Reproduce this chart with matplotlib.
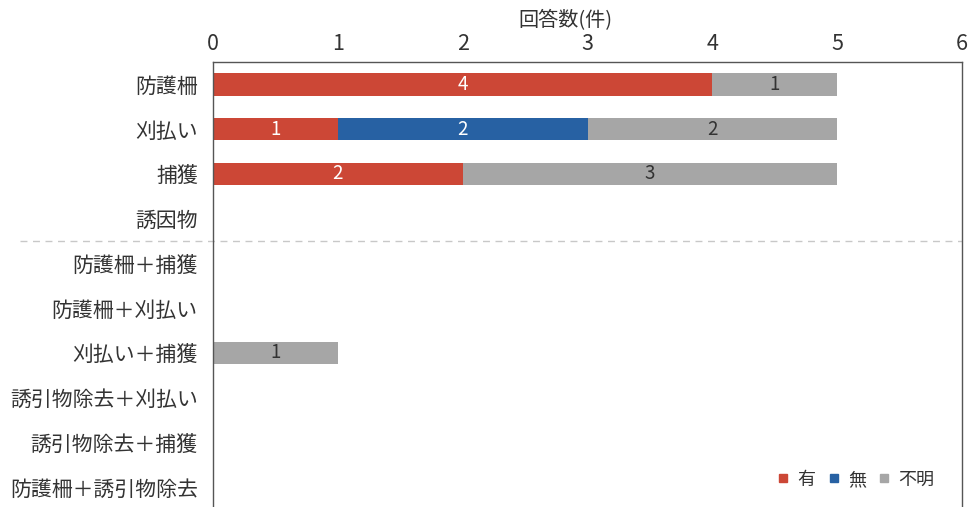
import matplotlib
matplotlib.use("Agg")
import matplotlib.pyplot as plt
from matplotlib.lines import Line2D
import numpy as np

plt.rcParams['font.family'] = ['Noto Sans CJK JP', 'DejaVu Sans']

categories = ["防護柵", "刈払い", "捕獲", "誘因物", "防護柵＋捕獲", "防護柵＋刈払い",
              "刈払い＋捕獲", "誘引物除去＋刈払い", "誘引物除去＋捕獲", "防護柵＋誘引物除去"]
series_names = ["有", "無", "不明"]
yes_vals = [4, 1, 2, 0, 0, 0, 0, 0, 0, 0]
no_vals = [0, 2, 0, 0, 0, 0, 0, 0, 0, 0]
unknown_vals = [1, 2, 3, 0, 0, 0, 1, 0, 0, 0]
x_ticks = [0, 1, 2, 3, 4, 5, 6]
axis_title = "回答数(件)"

colors = ["#CC4736", "#2761A3", "#A6A6A6"]
text_colors = ["white", "white", "#333333"]

fig = plt.figure(figsize=(9.69, 5.07), dpi=100)
ax = fig.add_axes([213/969, -2.5/507, 749/969, 447.5/507])

y = np.arange(len(categories))
left = np.zeros(len(categories))
for vals, c, tc in zip([yes_vals, no_vals, unknown_vals], colors, text_colors):
    vals = np.array(vals, dtype=float)
    bars = ax.barh(y, vals, left=left, height=0.5, color=c, edgecolor='none')
    for b, v in zip(bars, vals):
        if v > 0:
            ax.text(b.get_x() + b.get_width()/2, b.get_y() + b.get_height()/2,
                    f"{int(v)}", ha='center', va='center', color=tc, fontsize=13.5)
    left += vals

ax.set_xlim(0, 6)
ax.set_ylim(len(categories) - 0.5, -0.5)
ax.set_yticks(y)
ax.set_yticklabels(categories, fontsize=15, color='#333333')
ax.set_xticks(x_ticks)
ax.set_xticklabels([str(t) for t in x_ticks], fontsize=15.5, color='#333333')
ax.xaxis.tick_top()
ax.tick_params(axis='both', length=0)
ax.tick_params(axis='y', pad=11)
ax.tick_params(axis='x', pad=5)
for s in ['left', 'top', 'right', 'bottom']:
    ax.spines[s].set_color('#555555')
    ax.spines[s].set_linewidth(1.0)

fig.text(565/969, 1 - 21/507, axis_title, ha='center', va='center',
         fontsize=14.5, color='#333333')

# dashed separator
ax.plot([-1.55, 6], [3.5, 3.5], ls=(0, (5, 4)), color='#C8C8C8', lw=1.0, clip_on=False)

handles = [Line2D([0], [0], marker='s', ls='none', color=c, markersize=6) for c in colors]
leg = ax.legend(handles, series_names, ncol=3, loc='lower right', frameon=False,
                fontsize=13, handletextpad=-0.2, columnspacing=0.0,
                bbox_to_anchor=(0.985, 0.01))
for t in leg.get_texts():
    t.set_color('#333333')

fig.savefig("out.png", dpi=100)
